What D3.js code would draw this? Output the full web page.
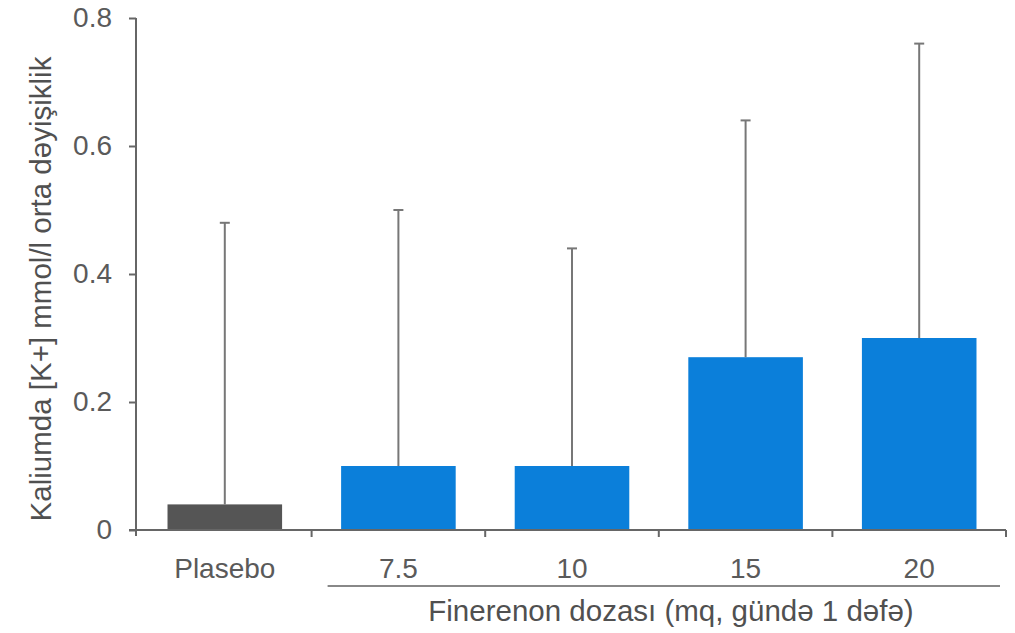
<!DOCTYPE html>
<html>
<head>
<meta charset="utf-8">
<script src="https://cdn.jsdelivr.net/npm/d3@7"></script>
<style>
  body { margin: 0; background: #fff; }
  text { font-family: "Liberation Sans", Arial, sans-serif; }
</style>
</head>
<body>
<svg id="chart" width="1015" height="633"></svg>
<script>
// Mean change in serum potassium by finerenone dose
const categories = ["Plasebo", "7.5", "10", "15", "20"];
const meanChange = [0.04, 0.1, 0.1, 0.27, 0.3];
const upperError = [0.48, 0.5, 0.44, 0.64, 0.76];
const yTicks = [0, 0.2, 0.4, 0.6, 0.8];
const yTitle = "Kaliumda [K+] mmol/l orta dəyişiklik";
const xTitle = "Finerenon dozası (mq, gündə 1 dəfə)";

const svg = d3.select("#chart");
const plotLeft = 136, plotRight = 1006, plotTop = 18, plotBottom = 530;

// category bands start just right of the value axis
const x = d3.scaleBand().domain(categories).range([plotLeft + 2, plotRight]).paddingInner(0.34).paddingOuter(0.17);
const y = d3.scaleLinear().domain([0, 0.8]).range([plotBottom, plotTop]);

const axisColor = "#666";
const textColor = "#5a5a5a";

// bars
svg.selectAll("rect.bar").data(categories).join("rect")
  .attr("class", "bar")
  .attr("x", d => x(d))
  .attr("width", x.bandwidth())
  .attr("y", (d, i) => y(meanChange[i]))
  .attr("height", (d, i) => y(0) - y(meanChange[i]))
  .attr("fill", (d, i) => i === 0 ? "#555555" : "#0b7fda");

// upper error bars
const eb = svg.append("g").attr("stroke", "#777").attr("stroke-width", 2);
categories.forEach((c, i) => {
  const cx = x(c) + x.bandwidth() / 2;
  eb.append("line").attr("x1", cx).attr("x2", cx).attr("y1", y(meanChange[i])).attr("y2", y(upperError[i]));
  eb.append("line").attr("x1", cx - 5).attr("x2", cx + 5).attr("y1", y(upperError[i])).attr("y2", y(upperError[i]));
});

// y axis
const yAxis = svg.append("g").attr("transform", `translate(${plotLeft},0)`)
  .call(d3.axisLeft(y).tickValues(yTicks).tickFormat(d => d === 0 ? "0" : d3.format(".1f")(d)).tickSize(7).tickPadding(17));
yAxis.select(".domain").attr("stroke", axisColor).attr("stroke-width", 2).attr("d", `M0,${plotTop}V${plotBottom + 6}`);
yAxis.selectAll(".tick line").attr("stroke", axisColor).attr("stroke-width", 2);
yAxis.selectAll(".tick text").attr("fill", textColor).attr("font-size", 28)
  .attr("font-family", "'Liberation Sans', Arial, sans-serif");

// x axis with ticks at category boundaries
const step = x.step();
const boundaries = d3.range(categories.length + 1).map(i => plotLeft + 2 + i * step);
const xAxis = svg.append("g");
xAxis.append("line").attr("x1", plotLeft - 7).attr("x2", plotRight).attr("y1", plotBottom).attr("y2", plotBottom)
  .attr("stroke", axisColor).attr("stroke-width", 2);
xAxis.selectAll("line.bt").data(boundaries.slice(1)).join("line")
  .attr("class", "bt")
  .attr("x1", d => d).attr("x2", d => d).attr("y1", plotBottom).attr("y2", plotBottom + 7)
  .attr("stroke", axisColor).attr("stroke-width", 2);
xAxis.selectAll("text").data(categories).join("text")
  .attr("x", d => x(d) + x.bandwidth() / 2)
  .attr("y", 578)
  .attr("text-anchor", "middle")
  .attr("font-size", 28)
  .attr("fill", textColor)
  .text(d => d);

// bracket line under the dose groups
svg.append("line")
  .attr("x1", boundaries[1] + 16).attr("x2", plotRight - 6)
  .attr("y1", 586).attr("y2", 586)
  .attr("stroke", "#888").attr("stroke-width", 2);

svg.append("text")
  .attr("x", 671)
  .attr("y", 621)
  .attr("text-anchor", "middle")
  .attr("font-size", 29.5)
  .attr("fill", "#505050")
  .text(xTitle);

svg.append("text")
  .attr("transform", `translate(51,289) rotate(-90)`)
  .attr("text-anchor", "middle")
  .attr("font-size", 29.5)
  .attr("fill", "#505050")
  .text(yTitle);
</script>
</body>
</html>
